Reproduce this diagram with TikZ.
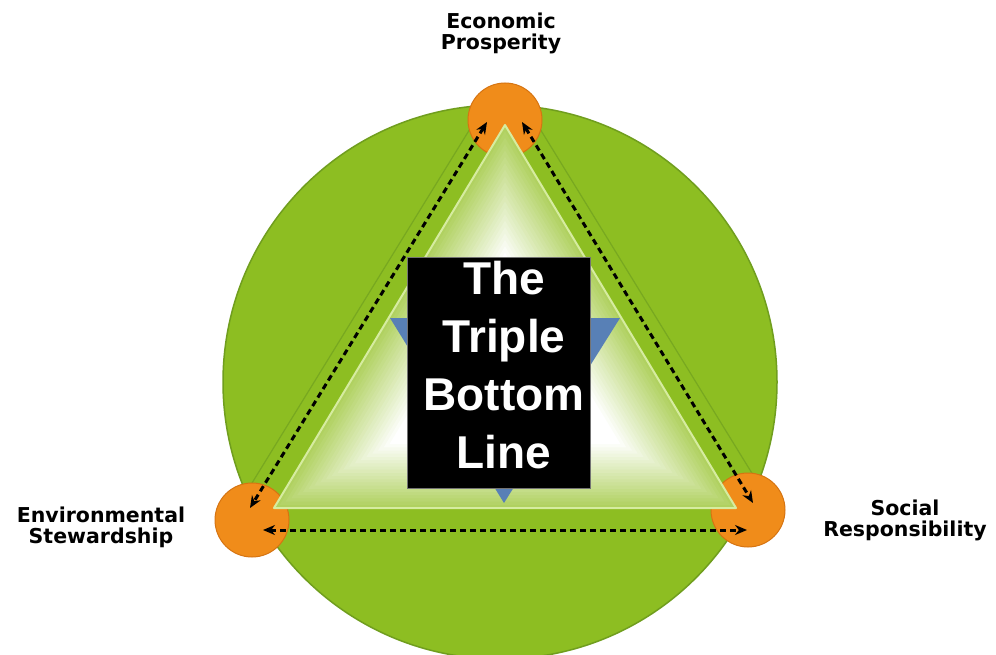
\documentclass[tikz,border=0pt]{standalone}
\usepackage{fontspec}
\setmainfont{Liberation Sans}
\newfontfamily\labelfont{DejaVu Sans}
\usetikzlibrary{arrows.meta,calc}
\definecolor{circG}{RGB}{141,190,34}
\definecolor{circD}{RGB}{112,158,30}
\definecolor{bandD}{RGB}{120,168,32}
\definecolor{innerG}{RGB}{176,209,96}
\definecolor{stripeG}{RGB}{214,236,160}
\definecolor{orangeC}{RGB}{240,140,26}
\definecolor{orangeD}{RGB}{214,116,18}
\definecolor{blueT}{RGB}{88,128,182}
\tikzset{
  vertexdot/.style={circle, fill=orangeC, draw=orangeD, line width=1pt, minimum size=74pt, inner sep=0pt},
  darr/.style={draw=black, line width=3pt, dash pattern=on 6pt off 4pt, {Stealth[length=12pt,width=10pt]}-{Stealth[length=12pt,width=10pt]}},
  lbl/.style={font=\labelfont\bfseries\fontsize{20.5}{21}\selectfont, align=center, text=black, inner sep=0pt},
  tblbox/.style={fill=black, draw=black!55, line width=0.8pt, minimum width=183pt, minimum height=231pt, inner sep=0pt},
  tbltext/.style={text=white, align=center, font=\bfseries\fontsize{46}{58}\selectfont, inner sep=0pt}
}
\begin{document}
\begin{tikzpicture}[x=1pt,y=-1pt]
\useasboundingbox (0,0) rectangle (996,655);
\fill[white] (0,0) rectangle (996,655);
% big disc
\node[circle, fill=circG, draw=circD, line width=1.5pt, minimum size=554pt, inner sep=0pt] (disc) at (500,382) {};
% triangle band edges
\begin{scope}
  \clip (500,382) circle (276);
  \draw[bandD, line width=1.2pt] (212,548) -- (505,72) -- (798,548);
\end{scope}
% vertex dots
\node[vertexdot] (econ) at (505,120) {};
\node[vertexdot] (envi) at (252,520) {};
\node[vertexdot] (soci) at (748,510) {};
% inner gradient triangle
\coordinate (A) at (505,125);
\coordinate (B) at (274,508);
\coordinate (C) at (736,508);
\coordinate (G) at (505,380.3);
\foreach \i in {0,...,20}{
  \pgfmathsetmacro\s{1-\i*0.025}
  \pgfmathsetmacro\pc{100-\i*5}
  \fill[innerG!\pc!white] ($(G)!\s!(A)$) -- ($(G)!\s!(B)$) -- ($(G)!\s!(C)$) -- cycle;
}
\draw[stripeG, line width=2pt, line join=round] (A) -- (B) -- (C) -- cycle;
% blue inverted triangle behind the box
\fill[blueT] (390,318) -- (620,318) -- (504,503) -- cycle;
% box and title
\node[tblbox] (box) at (498.5,372.5) {};
\node[tbltext] (tbl) at (504,365) {The\\Triple\\Bottom\\Line};
% dashed double arrows
\coordinate (eL) at (487,122);
\coordinate (eR) at (522,122);
\coordinate (nL) at (250,508);
\coordinate (sR) at (753,503);
\coordinate (nB) at (263,530);
\coordinate (sB) at (747,530);
\draw[darr] (eL) -- (nL);
\draw[darr] (eR) -- (sR);
\draw[darr] (nB) -- (sB);
% labels
\node[lbl] (econlbl) at (501,33) {Economic\\Prosperity};
\node[lbl] (envilbl) at (101,527) {Environmental\\Stewardship};
\node[lbl] (socilbl) at (905,520.5) {Social\\Responsibility};
\end{tikzpicture}
\end{document}
